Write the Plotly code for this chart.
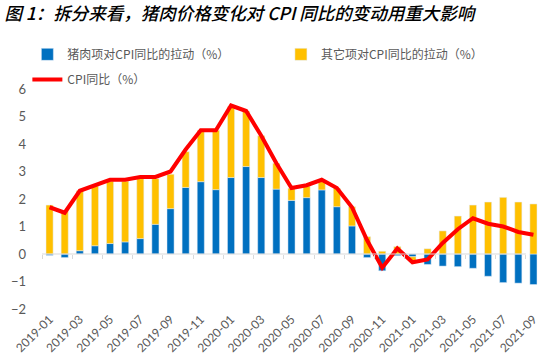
import plotly.graph_objects as go

months = ["2019-01","2019-02","2019-03","2019-04","2019-05","2019-06","2019-07","2019-08","2019-09","2019-10","2019-11","2019-12",
          "2020-01","2020-02","2020-03","2020-04","2020-05","2020-06","2020-07","2020-08","2020-09","2020-10","2020-11","2020-12",
          "2021-01","2021-02","2021-03","2021-04","2021-05","2021-06","2021-07","2021-08","2021-09"]
pork = [-0.05,-0.13,0.12,0.30,0.38,0.44,0.56,1.08,1.65,2.42,2.63,2.34,
        2.78,3.18,2.78,2.36,1.95,2.05,2.33,1.72,1.02,-0.13,-0.61,-0.06,
        -0.10,-0.38,-0.44,-0.46,-0.52,-0.81,-1.04,-1.06,-1.11]
other = [1.78,1.60,2.18,2.17,2.27,2.21,2.18,1.66,1.25,1.30,1.87,2.16,
         2.58,2.02,1.52,0.94,0.44,0.42,0.30,0.67,0.70,0.63,0.10,0.27,
         -0.18,0.19,0.84,1.38,1.78,1.89,2.06,1.89,1.82]
cpi = [1.7,1.5,2.3,2.5,2.7,2.7,2.8,2.8,3.0,3.8,4.5,4.5,
       5.4,5.2,4.3,3.3,2.4,2.5,2.7,2.4,1.7,0.5,-0.5,0.2,
       -0.3,-0.2,0.4,0.9,1.3,1.1,1.0,0.8,0.7]
label_months = months[::2]
boundary_ticks = [i - 0.5 for i in range(0, len(months) + 1, 2)]

fig = go.Figure()
fig.add_trace(go.Bar(x=months, y=pork, name="猪肉项对CPI同比的拉动（%）", marker_color="#0070C0", legend="legend"))
fig.add_trace(go.Bar(x=months, y=other, name="其它项对CPI同比的拉动（%）", marker_color="#FFC000", legend="legend2"))
fig.add_trace(go.Scatter(x=months, y=cpi, name="CPI同比（%）", mode="lines",
                         line=dict(color="#FF0000", width=4), legend="legend3"))
# helper trace on overlay axis that carries the zero-line tick marks
fig.add_trace(go.Scatter(x=[boundary_ticks[0], boundary_ticks[-1]], y=[0, 0], xaxis="x2", mode="lines",
                         line=dict(color="#D9D9D9", width=1), showlegend=False, hoverinfo="skip"))

legend_font = dict(family="Noto Sans CJK SC", size=12, color="#595959")
def leg(x, y):
    return dict(x=x, xref="container", xanchor="left", y=y, yref="container", yanchor="top",
                font=legend_font, itemwidth=30, bgcolor="rgba(0,0,0,0)", borderwidth=0)

fig.update_layout(
    width=553, height=364,
    margin=dict(l=42, r=12, t=89, b=55, autoexpand=False),
    paper_bgcolor="white", plot_bgcolor="white",
    barmode="relative", bargap=0.53,
    font=dict(family="Lato, Noto Sans CJK SC", color="#595959", size=12),
    title=dict(text="图 1：拆分来看，猪肉价格变化对 CPI 同比的变动用重大影响",
               x=0.008, xref="container", xanchor="left", y=0.962, yref="container", yanchor="middle",
               font=dict(family="Noto Sans CJK SC", size=17.5, color="black", style="italic", weight=500)),
    legend=leg(0.0495, 0.8905),
    legend2=leg(0.508, 0.8905),
    legend3=leg(0.0495, 0.8215),
    xaxis=dict(type="category", range=[-0.5, len(months) - 0.5], tickmode="array",
               tickvals=label_months, ticktext=label_months, tickangle=-45,
               showline=False, ticks="", showgrid=False, zeroline=False,
               tickfont=dict(family="Lato", size=12, color="#595959")),
    xaxis2=dict(overlaying="x", anchor="free", position=0.25, range=[-0.5, len(months) - 0.5],
                tickmode="array", tickvals=boundary_ticks, showticklabels=False,
                ticks="outside", ticklen=4, tickcolor="#D9D9D9", showline=False,
                showgrid=False, zeroline=False),
    yaxis=dict(range=[-2, 6], dtick=1, showgrid=False, zeroline=False, showline=False,
               ticklabelstandoff=15, tickfont=dict(family="Lato", size=13, color="#595959")),
)

fig.write_html("out.html", config={"displayModeBar": False},
               post_script="document.body.style.margin='0';")
